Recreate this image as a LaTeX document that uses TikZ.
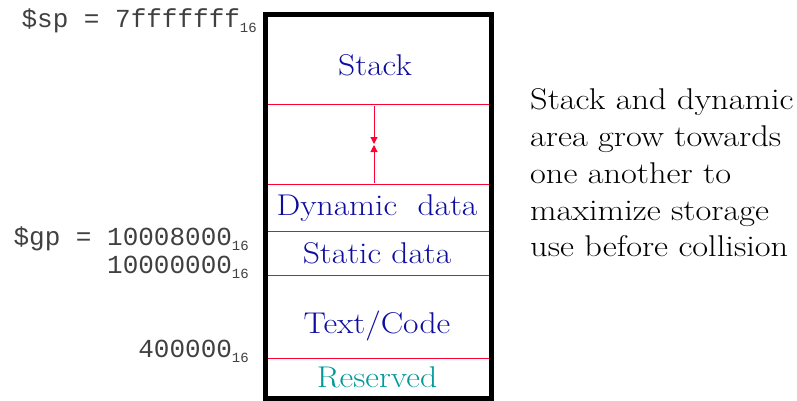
\documentclass[tikz,border=0pt]{standalone}
\usepackage{fontspec}
\newfontfamily\monof{Liberation Mono}
\usetikzlibrary{arrows.meta}
\definecolor{navy}{RGB}{13,13,160}
\definecolor{tealc}{RGB}{0,153,153}
\definecolor{redl}{RGB}{255,0,51}
\newcommand{\widetext}[2][1.12]{\scalebox{#1}[1]{#2}}
\tikzset{
  seglabel/.style={text=navy, font=\fontsize{30}{32}\selectfont, inner sep=0pt},
  addr/.style={anchor=base east, font=\monof\fontsize{26}{28}\selectfont, inner sep=0pt, text=black!75},
  divider/.style={draw=redl, line width=1pt},
  growarrow/.style={draw=redl, line width=1pt, -{Triangle[length=7pt,width=7pt]}},
}
\newcommand{\sixteen}{\raisebox{-5pt}{\monof\fontsize{14}{15}\selectfont 16}}
\begin{document}
\begin{tikzpicture}[x=1pt,y=-1pt]
\useasboundingbox (0,0) rectangle (797,401);
% dividers
\foreach \yy/\nm in {105/d1,184/d2,231/d3,275/d4,358/d5}{
  \coordinate (\nm l) at (266,\yy);
  \coordinate (\nm r) at (492,\yy);
  \draw[divider] (\nm l) -- (\nm r);
}
% outer box
\draw[line width=5pt] (265.5,14.5) rectangle (491.5,398.5);
% growth arrows
\coordinate (top) at (374,106);
\coordinate (mid1) at (374,144);
\coordinate (mid2) at (374,145);
\coordinate (bot) at (374,183);
\draw[growarrow] (top) -- (mid1);
\draw[growarrow] (bot) -- (mid2);
% segment labels
\node[seglabel] (stack) at (375,65) {\widetext{Stack}};
\node[seglabel] (dyn) at (377,208) {\widetext{Dynamic\ \ data}};
\node[seglabel] (stat) at (377,253) {\widetext{Static data}};
\node[seglabel] (text) at (377,326) {\widetext{Text/Code}};
\node[seglabel, text=tealc] (res) at (377,377) {\widetext{Reserved}};
% addresses
\node[addr] (sp) at (257,28) {\$sp = 7fffffff\sixteen};
\node[addr] (gp) at (249,245) {\$gp = 10008000\sixteen};
\node[addr] (a1) at (249,273) {10000000\sixteen};
\node[addr] (a2) at (249,357) {400000\sixteen};
% note
\node[anchor=base west, inner sep=0pt] (note) at (530,110)
  {\widetext[1.145]{\parbox[t]{240pt}{\raggedright\fontsize{30}{36.7}\selectfont Stack and dynamic\\area grow towards\\one another to\\maximize storage\\use before collision}}};
\end{tikzpicture}
\end{document}
